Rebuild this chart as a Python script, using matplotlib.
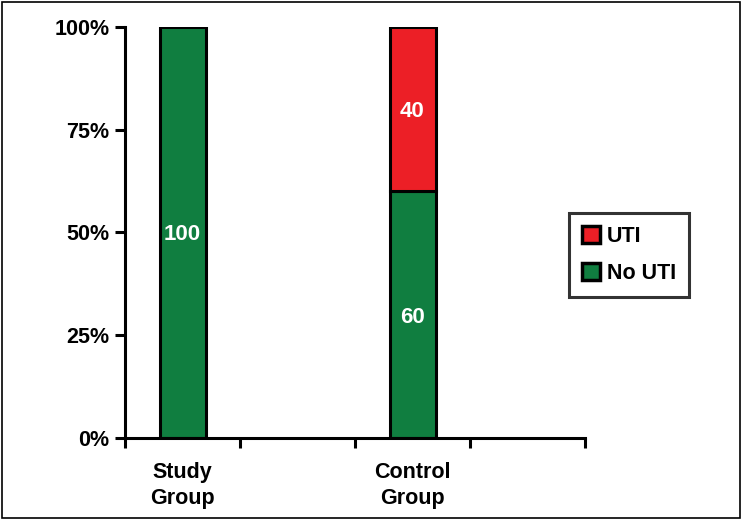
import matplotlib.pyplot as plt
import numpy as np
from matplotlib.patches import Rectangle

plt.rcParams["font.family"] = ["Liberation Sans", "DejaVu Sans"]
plt.rcParams["font.weight"] = "bold"

groups = ["Study\nGroup", "Control\nGroup"]
no_uti = [100, 60]
uti = [0, 40]
series_names = ["UTI", "No UTI"]
yticks = [0, 25, 50, 75, 100]

GREEN = "#107e40"
RED = "#ec1f26"
FS = 15.5


def main():
    fig = plt.figure(figsize=(7.43, 5.2), dpi=100)
    ax = fig.add_axes([125 / 743, 1 - 438 / 520, 460 / 743, 411 / 520])

    # groups sit in every other category slot
    x = np.arange(len(groups)) * 2
    w = 0.4
    b1 = ax.bar(x, no_uti, w, color=GREEN, edgecolor="black", linewidth=2.2, label="No UTI")
    mask = np.array(uti) > 0
    b2 = ax.bar(x[mask], np.array(uti)[mask], w, bottom=np.array(no_uti)[mask],
                color=RED, edgecolor="black", linewidth=2.2, label="UTI")

    for xi, v in zip(x, no_uti):
        ax.text(xi, v / 2, str(v), color="white", ha="center", va="center_baseline",
                fontsize=16, fontweight="bold")
    for xi, v, b in zip(x, uti, no_uti):
        if v > 0:
            ax.text(xi, b + v / 2, str(v), color="white", ha="center", va="center_baseline",
                    fontsize=16, fontweight="bold")

    ax.set_xlim(-0.5, 2 * len(groups) - 0.5)
    ax.set_ylim(0, 100)
    ax.set_yticks(yticks)
    ax.set_yticklabels([f"{t}%" for t in yticks])
    ax.set_xticks(np.arange(-0.5, 2 * len(groups)))
    ax.set_xticklabels([])
    ax.set_xticks(x, minor=True)
    ax.set_xticklabels(groups, minor=True, linespacing=1.35)
    ax.tick_params(axis="x", which="minor", length=0, pad=17, labelsize=FS)
    ax.tick_params(axis="x", which="major", length=7, width=2.2, direction="out")
    ax.tick_params(axis="y", length=7, width=2.2, direction="out", labelsize=FS, pad=4)
    for lab in ax.get_xticklabels(minor=True) + ax.get_yticklabels():
        lab.set_fontweight("bold")

    for s in ["top", "right"]:
        ax.spines[s].set_visible(False)
    for s in ["left", "bottom"]:
        ax.spines[s].set_linewidth(2.2)

    leg = fig.legend(handles=[b2, b1], labels=series_names,
                     loc="upper left", bbox_to_anchor=(569 / 743, 1 - 213 / 520),
                     frameon=True, fancybox=False, edgecolor="black",
                     prop={"weight": "bold", "size": FS},
                     handlelength=0.85, handleheight=0.85, handletextpad=0.3,
                     labelspacing=0.75, borderpad=0.6, borderaxespad=0)
    leg.get_frame().set_linewidth(2.2)
    for h in leg.legend_handles:
        h.set_linewidth(2.5)

    # figure border
    fig.patches.append(Rectangle((0.003, 0.004), 0.993, 0.993, transform=fig.transFigure,
                                 fill=False, edgecolor="black", linewidth=1.2))

    fig.savefig("out.png", dpi=100)
    plt.close(fig)


if __name__ == "__main__":
    main()
